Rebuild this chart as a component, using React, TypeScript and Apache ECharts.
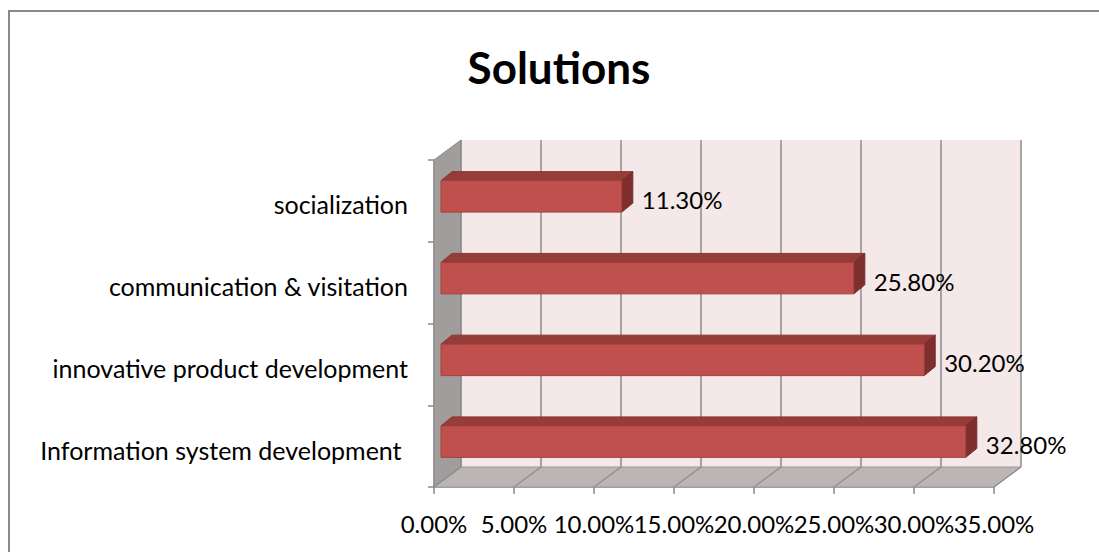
import React, { useEffect, useRef } from "react";
import * as echarts from "echarts";

const categories = [
  "Information system development ",
  "innovative product development",
  "communication & visitation",
  "socialization",
];
const values = [32.8, 30.2, 25.8, 11.3];
const valueLabels = ["32.80%", "30.20%", "25.80%", "11.30%"];
const xTicks = [0, 5, 10, 15, 20, 25, 30, 35];
const xTickLabels = ["0.00%", "5.00%", "10.00%", "15.00%", "20.00%", "25.00%", "30.00%", "35.00%"];
const titleText = "Solutions";

const FONT = "Lato, 'Open Sans', sans-serif";
const DX = 27;
const DY = -20;
const BDX = 11;
const BDY = -9;

export default function App() {
  const ref = useRef<HTMLDivElement>(null);
  useEffect(() => {
    if (!ref.current) return;
    document.documentElement.style.overflow = "hidden";
    document.body.style.margin = "0";
    document.body.style.overflow = "hidden";
    const chart = echarts.init(ref.current, null, { renderer: "svg" });
    const option: any = {
      animation: false,
      backgroundColor: "#ffffff",
      graphic: [
        {
          type: "line",
          shape: { x1: 9, y1: 11, x2: 1110, y2: 11 },
          style: { stroke: "#8a8a8a", lineWidth: 2 },
          z: 100,
        },
        {
          type: "line",
          shape: { x1: 9, y1: 10, x2: 9, y2: 560 },
          style: { stroke: "#8a8a8a", lineWidth: 2 },
          z: 100,
        },
        {
          type: "text",
          x: 559,
          y: 67,
          style: {
            text: titleText,
            font: `bold 44px ${FONT}`,
            fill: "#000",
            textAlign: "center",
            textVerticalAlign: "middle",
          },
        },
      ],
      grid: { left: 434, top: 160, width: 560, height: 327 },
      xAxis: {
        type: "value",
        min: 0,
        max: 35,
        interval: 5,
        axisLine: { show: true, lineStyle: { color: "#8a8a8a", width: 1.5 } },
        axisTick: { show: true, length: 7, lineStyle: { color: "#8a8a8a", width: 1.5 } },
        splitLine: { show: false },
        axisLabel: { show: false },
      },
      yAxis: {
        type: "category",
        data: categories,
        axisLine: { show: true, lineStyle: { color: "#8a8a8a", width: 1.5 } },
        axisTick: { show: true, length: 6, lineStyle: { color: "#8a8a8a", width: 1.5 } },
        axisLabel: { show: false },
        splitLine: { show: false },
      },
      series: [
        {
          type: "custom",
          z: 1,
          data: [[0, 0]],
          silent: true,
          renderItem: (params: any, api: any) => {
            const cs = params.coordSys;
            const left = cs.x;
            const top = cs.y;
            const right = cs.x + cs.width;
            const bottom = cs.y + cs.height;
            const children: any[] = [];
            children.push({
              type: "rect",
              shape: { x: left + DX, y: top + DY, width: cs.width, height: cs.height },
              style: { fill: "#f5e8e8" },
            });
            children.push({
              type: "polygon",
              shape: {
                points: [
                  [left, top],
                  [left + DX, top + DY],
                  [left + DX, bottom + DY],
                  [left, bottom],
                ],
              },
              style: { fill: "#a29d9d", stroke: "#8a8a8a", lineWidth: 1 },
            });
            children.push({
              type: "polygon",
              shape: {
                points: [
                  [left, bottom],
                  [left + DX, bottom + DY],
                  [right + DX, bottom + DY],
                  [right, bottom],
                ],
              },
              style: { fill: "#bcb5b5", stroke: "#9a9a9a", lineWidth: 1 },
            });
            xTicks.forEach((t, i) => {
              const x = api.coord([t, 0])[0];
              children.push({
                type: "line",
                shape: { x1: x + DX, y1: top + DY, x2: x + DX, y2: bottom + DY },
                style: { stroke: "#8c8c8c", lineWidth: 1.5 },
              });
              children.push({
                type: "line",
                shape: { x1: x, y1: bottom, x2: x + DX, y2: bottom + DY },
                style: { stroke: "#8c8c8c", lineWidth: 1.2 },
              });
              children.push({
                type: "text",
                x: x,
                y: bottom + 36,
                style: {
                  text: xTickLabels[i],
                  font: `24px ${FONT}`,
                  fill: "#000",
                  textAlign: "center",
                  textVerticalAlign: "middle",
                },
              });
            });
            return { type: "group", children };
          },
        },
        {
          type: "custom",
          z: 5,
          data: values.map((v, i) => [v, i]),
          renderItem: (params: any, api: any) => {
            const v = api.value(0);
            const idx = api.value(1);
            const band = api.size([0, 1])[1];
            const c = api.coord([v, idx]);
            const c0 = api.coord([0, idx]);
            const x0 = c0[0] + 7;
            const x1 = c[0] + 7;
            const h = band * 0.385;
            const cy = c[1] - band * 0.055;
            const y0 = cy - h / 2;
            const y1 = cy + h / 2;
            return {
              type: "group",
              children: [
                {
                  type: "polygon",
                  shape: {
                    points: [
                      [x0, y0],
                      [x0 + BDX, y0 + BDY],
                      [x1 + BDX, y0 + BDY],
                      [x1, y0],
                    ],
                  },
                  style: { fill: "#963c39", stroke: "#8a3532", lineWidth: 1 },
                },
                {
                  type: "polygon",
                  shape: {
                    points: [
                      [x1, y0],
                      [x1 + BDX, y0 + BDY],
                      [x1 + BDX, y1 + BDY],
                      [x1, y1],
                    ],
                  },
                  style: { fill: "#7e2f2d", stroke: "#742b29", lineWidth: 1 },
                },
                {
                  type: "rect",
                  shape: { x: x0, y: y0, width: x1 - x0, height: y1 - y0 },
                  style: { fill: "#c0504d", stroke: "#a2403d", lineWidth: 1 },
                },
                {
                  type: "text",
                  x: x1 + BDX + 9,
                  y: cy + 3,
                  style: {
                    text: valueLabels[params.dataIndex],
                    font: `24px ${FONT}`,
                    fill: "#000",
                    textAlign: "left",
                    textVerticalAlign: "middle",
                  },
                },
                {
                  type: "text",
                  x: c0[0] - 26,
                  y: c0[1] + 3.5,
                  style: {
                    text: categories[idx],
                    font: `25px ${FONT}`,
                    fill: "#000",
                    textAlign: "right",
                    textVerticalAlign: "middle",
                  },
                },
              ],
            };
          },
        },
      ],
    };
    chart.setOption(option);
    return () => chart.dispose();
  }, []);
  return (
    <div
      ref={ref}
      style={{ position: "absolute", left: 0, top: 0, width: 1099, height: 552 }}
    />
  );
}
